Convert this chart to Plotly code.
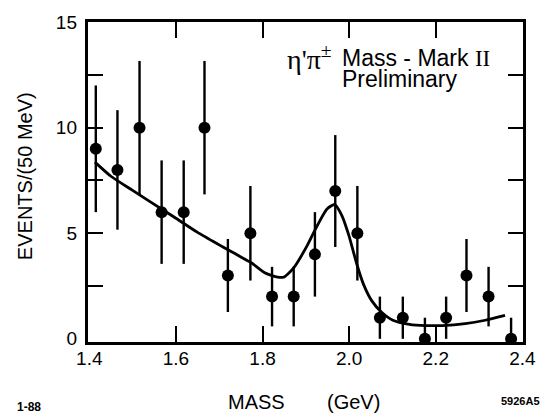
import plotly.graph_objects as go

# Mass bins (GeV) and event counts per 50 MeV bin
mass = [1.415, 1.465, 1.516, 1.567, 1.618, 1.666, 1.720, 1.772, 1.822, 1.872,
        1.921, 1.968, 2.019, 2.071, 2.124, 2.175, 2.224, 2.271, 2.322, 2.374]
events = [9, 8, 10, 6, 6, 10, 3, 5, 2, 2,
          4, 7, 5, 1, 1, 0, 1, 3, 2, 0]
err_up = [3.0, 2.83, 3.16, 2.45, 2.45, 3.16, 1.73, 2.24, 1.41, 1.41,
          2.0, 2.65, 2.24, 1.0, 1.0, 1.0, 1.0, 1.73, 1.41, 1.0]
err_down = [3.0, 2.83, 3.16, 2.45, 2.45, 3.16, 1.73, 2.24, 1.41, 1.41,
            2.0, 2.65, 2.24, 1.0, 1.0, 0.0, 1.0, 1.73, 1.41, 0.0]

# Fitted curve (background + resonance)
fit_mass = [1.413, 1.45, 1.50, 1.55, 1.60, 1.65, 1.70, 1.72, 1.75, 1.775,
            1.805, 1.835, 1.85, 1.872, 1.904, 1.921, 1.949, 1.967, 1.983, 1.999,
            2.018, 2.033, 2.052, 2.075, 2.101, 2.139, 2.177, 2.215, 2.268, 2.314, 2.360]
fit_events = [8.37, 7.70, 7.03, 6.37, 5.71, 5.04, 4.45, 4.22, 3.88, 3.59,
              3.13, 2.92, 2.93, 3.36, 4.45, 5.15, 6.15, 6.36, 5.85, 4.92,
              3.52, 2.59, 1.81, 1.26, 0.88, 0.69, 0.63, 0.63, 0.72, 0.88, 1.11]

# Axis ticks
x_label_vals = [1.4, 1.6, 1.8, 2.0, 2.2, 2.4]
x_label_text = ["1.4", "1.6", "1.8", "2.0", "2.2", "2.4"]
x_tick_vals = [1.6, 1.8, 2.0, 2.2]
y_label_vals = [0, 5, 10, 15]
y_label_text = ["0", "5", "10", "15"]
y_tick_vals = [2.5, 5, 7.5, 10, 12.5]

x_range = [1.397, 2.4015]
y_range = [-0.15, 15.005]

fig = go.Figure()

fig.add_trace(go.Scatter(
    x=fit_mass, y=fit_events, mode="lines",
    line=dict(color="black", width=2.8, shape="spline", smoothing=0.6),
    hoverinfo="skip", showlegend=False,
))

fig.add_trace(go.Scatter(
    x=mass, y=events, mode="markers",
    marker=dict(color="black", size=12),
    error_y=dict(type="data", symmetric=False, array=err_up, arrayminus=err_down,
                 color="black", thickness=2.4, width=0),
    showlegend=False,
))

# empty trace that anchors the overlay axes carrying the tick labels
fig.add_trace(go.Scatter(x=[], y=[], xaxis="x2", yaxis="y2",
                         showlegend=False, hoverinfo="skip"))

sans = "Liberation Sans, Arial, sans-serif"
serif = "Liberation Serif, Times New Roman, serif"

fig.update_layout(
    width=548, height=416,
    margin=dict(l=88, r=21, t=17, b=74),
    paper_bgcolor="white", plot_bgcolor="white",
    font=dict(family=sans, color="black", size=19),
    # frame + inward ticks on all four sides
    xaxis=dict(
        range=x_range, showgrid=False, zeroline=False,
        showline=True, linecolor="black", linewidth=2.5, mirror="ticks",
        tickmode="array", tickvals=x_tick_vals, showticklabels=False,
        ticks="inside", ticklen=16, tickwidth=2, tickcolor="black",
    ),
    yaxis=dict(
        range=y_range, showgrid=False, zeroline=False,
        showline=True, linecolor="black", linewidth=2.5, mirror="ticks",
        tickmode="array", tickvals=y_tick_vals, showticklabels=False,
        ticks="inside", ticklen=15, tickwidth=2, tickcolor="black",
    ),
    # tick labels
    xaxis2=dict(
        overlaying="x", matches="x", range=x_range, side="bottom",
        showgrid=False, zeroline=False, showline=False,
        tickmode="array", tickvals=x_label_vals, ticktext=x_label_text,
        ticks="", ticklabelstandoff=3, tickfont=dict(size=19),
    ),
    yaxis2=dict(
        overlaying="y", matches="y", range=y_range, side="left",
        showgrid=False, zeroline=False, showline=False,
        tickmode="array", tickvals=y_label_vals, ticktext=y_label_text,
        ticks="", ticklabelstandoff=10, tickfont=dict(size=19),
    ),
)

annotations = [
    dict(text="η'π<sup>±</sup>", x=0.4533, y=0.889, xanchor="left", yanchor="middle",
         font=dict(family=serif, size=28)),
    dict(text="Mass - Mark <span style='font-family:Liberation Serif'>II</span>",
         x=0.5786, y=0.886, xanchor="left", yanchor="middle", font=dict(size=23)),
    dict(text="Preliminary", x=0.5786, y=0.822, xanchor="left", yanchor="middle",
         font=dict(size=23)),
    dict(text="MASS", x=0.3872, y=-0.1877, xanchor="center", yanchor="middle",
         font=dict(size=20)),
    dict(text="(GeV)", x=0.6105, y=-0.1877, xanchor="center", yanchor="middle",
         font=dict(size=20)),
    dict(text="EVENTS/(50 MeV)", x=-0.1458, y=0.517, xanchor="center", yanchor="middle",
         textangle=-90, font=dict(size=20)),
    dict(text="<b>1-88</b>", x=-0.1367, y=-0.2031, xanchor="center", yanchor="middle",
         font=dict(size=12)),
    dict(text="<b>5926A5</b>", x=0.9932, y=-0.1846, xanchor="center", yanchor="middle",
         font=dict(size=11)),
]
for a in annotations:
    a.update(xref="paper", yref="paper", showarrow=False)
fig.update_layout(annotations=annotations)

fig.write_html("out.html")
